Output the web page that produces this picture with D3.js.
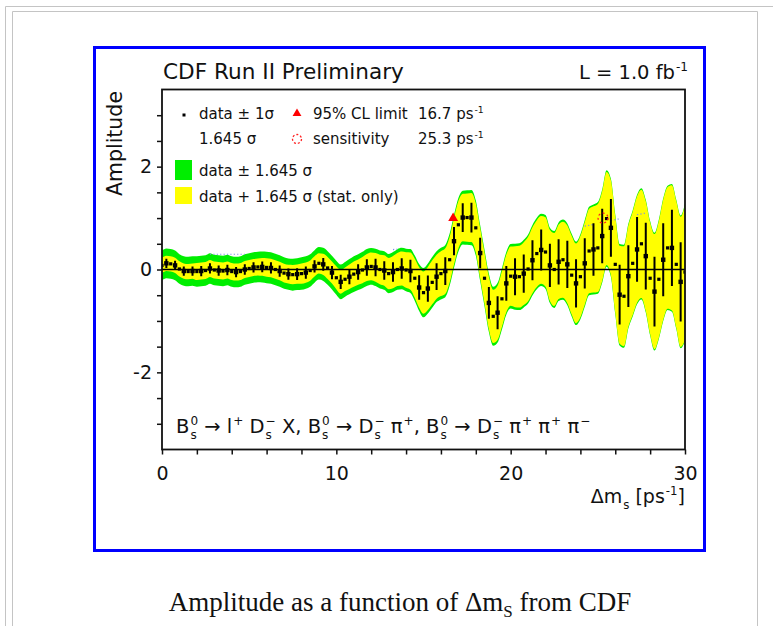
<!DOCTYPE html>
<html>
<head>
<meta charset="utf-8">
<script src="https://cdn.jsdelivr.net/npm/d3@7"></script>
<style>
body { margin: 0; background: #fff; }
svg text { font-family: "DejaVu Sans", sans-serif; fill: #111; white-space: pre; }
</style>
</head>
<body>
<svg id="chart" width="773" height="626"></svg>
<script>
// amplitude scan, one point every 0.25 ps^-1 from 0 to 30
var dmStep = 0.25;

var amplitude = [
  0.08, 0.12, 0.11, 0.08, 0.01, -0.03, -0.04, -0.03,
  -0.04, -0.03, -0.02, 0.02, -0.01, -0.02, -0.03, -0.01,
  -0.04, -0.05, -0.04, 0.00, 0.02, 0.04, 0.05, 0.05,
  0.04, 0.03, 0.00, -0.03, -0.07, -0.09, -0.10, -0.09,
  -0.08, -0.06, -0.02, 0.06, 0.12, 0.10, 0.03, -0.06,
  -0.16, -0.24, -0.19, -0.14, -0.09, -0.05, -0.01, 0.04,
  0.06, 0.04, 0.00, -0.02, -0.08, -0.05, 0.00, 0.02,
  -0.01, -0.03, -0.17, -0.35, -0.45, -0.37, -0.25, -0.14,
  -0.08, -0.03, 0.19, 0.55, 0.87, 1.01, 1.01, 1.01,
  0.81, 0.32, -0.17, -0.65, -0.91, -0.84, -0.57, -0.27,
  -0.13, -0.14, -0.14, -0.08, 0.01, 0.18, 0.31, 0.38,
  0.34, 0.08, 0.00, 0.15, 0.19, 0.10, -0.11, -0.27,
  -0.14, 0.12, 0.36, 0.39, 0.42, 0.65, 0.99, 0.81,
  0.10, -0.49, -0.52, -0.13, 0.12, 0.39, 0.50, 0.26,
  -0.17, -0.43, -0.19, 0.19, 0.42, 0.42, 0.10, -0.24,
  -0.05
];

// statistical 1 sigma at each point
var sigmaStat = [
  0.09, 0.09, 0.09, 0.09, 0.09, 0.09, 0.09, 0.09,
  0.10, 0.10, 0.10, 0.10, 0.10, 0.10, 0.10, 0.10,
  0.10, 0.10, 0.10, 0.10, 0.10, 0.10, 0.10, 0.105,
  0.11, 0.11, 0.11, 0.11, 0.11, 0.11, 0.115, 0.115,
  0.12, 0.12, 0.12, 0.12, 0.12, 0.125, 0.13, 0.13,
  0.135, 0.14, 0.14, 0.145, 0.15, 0.15, 0.155, 0.16,
  0.165, 0.17, 0.175, 0.18, 0.185, 0.19, 0.195, 0.20,
  0.21, 0.22, 0.23, 0.24, 0.25, 0.255, 0.26, 0.26,
  0.265, 0.27, 0.27, 0.275, 0.28, 0.28, 0.285, 0.29,
  0.29, 0.295, 0.30, 0.31, 0.315, 0.32, 0.33, 0.34,
  0.35, 0.36, 0.365, 0.37, 0.38, 0.39, 0.395, 0.40,
  0.41, 0.42, 0.43, 0.44, 0.45, 0.46, 0.465, 0.47,
  0.48, 0.49, 0.50, 0.51, 0.52, 0.53, 0.55, 0.56,
  0.57, 0.58, 0.59, 0.60, 0.61, 0.63, 0.64, 0.65,
  0.66, 0.68, 0.69, 0.71, 0.72, 0.74, 0.75, 0.77,
  0.80
];

// systematic sigma, one value per 1 ps^-1 bin
var sigmaSyst = [
  0.15, 0.15, 0.15, 0.15, 0.15, 0.15, 0.15, 0.15, 0.15, 0.15,
  0.15, 0.15, 0.14, 0.14, 0.14, 0.15, 0.15, 0.15, 0.15, 0.15,
  0.15, 0.15, 0.15, 0.15, 0.15, 0.15, 0.15, 0.15, 0.15, 0.15, 0.15
];

// bits of the 1.645 sigma line that show through
var sensRanges = [[2.75, 4.75], [13.25, 13.5], [24.25, 24.75], [25.75, 26.25], [27.25, 27.75]];

var clLimit = [16.7, 1.0];
var sensPoint = [25.3, 1.0];

var xTickValues = d3.range(0, 31, 2);
var xLabels = [0, 10, 20, 30];
var yTickValues = d3.range(-3, 3.01, 0.5);
var yLabels = [-2, 0, 2];

var data = amplitude.map(function (a, i) {
  var dm = i * dmStep;
  var st = sigmaStat[i];
  var sy = sigmaSyst[Math.min(30, Math.floor(dm))];
  return { dm: dm, a: a, s: st, t: Math.sqrt(st * st + sy * sy), bar: i % 2 === 1 };
});

var svg = d3.select("#chart");

// page frame lines
svg.append("path").attr("d", "M5.5,626 V6.5 H773").attr("fill", "none").attr("stroke", "#c4c4c4");
svg.append("path").attr("d", "M12.5,626 V11.5 H757.5 V626").attr("fill", "none").attr("stroke", "#c4c4c4");

svg.append("rect")
   .attr("x", 94.5).attr("y", 47.5)
   .attr("width", 610).attr("height", 503)
   .attr("fill", "#fff")
   .attr("stroke", "#0000ff")
   .attr("stroke-width", 3);

var plot = { left: 162, right: 685, top: 89.5, bottom: 449.5 };

var x = d3.scaleLinear().domain([0, 30]).range([plot.left, plot.right]);
var y = d3.scaleLinear().domain([-3.5, 3.5]).range([plot.bottom, plot.top]);

svg.append("clipPath").attr("id", "clip")
   .append("rect")
   .attr("x", plot.left).attr("y", plot.top)
   .attr("width", plot.right - plot.left).attr("height", plot.bottom - plot.top);

var g = svg.append("g").attr("clip-path", "url(#clip)");

var k = 1.645;
var greenArea = d3.area()
    .x(function (d) { return x(d.dm); })
    .y0(function (d) { return y(d.a - k * d.t); })
    .y1(function (d) { return y(d.a + k * d.t); })
    .curve(d3.curveMonotoneX);
var yellowArea = d3.area()
    .x(function (d) { return x(d.dm); })
    .y0(function (d) { return y(d.a - k * d.s); })
    .y1(function (d) { return y(d.a + k * d.s); })
    .curve(d3.curveMonotoneX);

g.append("path").datum(data).attr("d", greenArea).attr("fill", "#00ee00");
g.append("path").datum(data).attr("d", yellowArea).attr("fill", "#ffff00");

// dotted 1.645 sigma line
var sensLine = d3.line()
    .x(function (d) { return x(d.dm); })
    .y(function (d) { return y(k * d.t); });
sensRanges.forEach(function (r) {
  var seg = data.filter(function (d) { return d.dm >= r[0] && d.dm <= r[1]; });
  g.append("path").datum(seg).attr("d", sensLine)
   .attr("fill", "none").attr("stroke", "#7f8fe8")
   .attr("stroke-width", 1.2).attr("stroke-dasharray", "1.2,2.2");
});

g.append("line")
 .attr("x1", x(0)).attr("x2", x(30))
 .attr("y1", y(0)).attr("y2", y(0))
 .attr("stroke", "#000").attr("stroke-width", 1.5);

g.selectAll("line.err").data(data.filter(function (d) { return d.bar; })).enter()
 .append("line").attr("class", "err")
 .attr("x1", function (d) { return x(d.dm); })
 .attr("x2", function (d) { return x(d.dm); })
 .attr("y1", function (d) { return y(d.a - d.s); })
 .attr("y2", function (d) { return y(d.a + d.s); })
 .attr("stroke", "#000").attr("stroke-width", 2);

g.selectAll("rect.pt").data(data).enter()
 .append("rect").attr("class", "pt")
 .attr("x", function (d) { return x(d.dm) - (d.bar ? 2.2 : 1.6); })
 .attr("y", function (d) { return y(d.a) - (d.bar ? 2.2 : 1.6); })
 .attr("width", function (d) { return d.bar ? 4.4 : 3.2; })
 .attr("height", function (d) { return d.bar ? 4.4 : 3.2; })
 .attr("fill", "#000");

var tri = d3.symbol().type(d3.symbolTriangle).size(42);
g.append("path").attr("d", tri())
 .attr("transform", "translate(" + x(clLimit[0]) + "," + y(clLimit[1]) + ")")
 .attr("fill", "#ff0000");

g.append("circle")
 .attr("cx", x(sensPoint[0])).attr("cy", y(sensPoint[1])).attr("r", 5)
 .attr("fill", "none").attr("stroke", "#ff2020").attr("stroke-width", 1.3)
 .attr("stroke-dasharray", "2,2.5");

// frame
svg.append("rect")
   .attr("x", plot.left).attr("y", plot.top)
   .attr("width", plot.right - plot.left).attr("height", plot.bottom - plot.top)
   .attr("fill", "none").attr("stroke", "#111").attr("stroke-width", 1.8);

var xAxis = d3.axisBottom(x).tickValues(xTickValues).tickSize(5).tickSizeOuter(0).tickPadding(12)
    .tickFormat(function (d) { return xLabels.indexOf(d) >= 0 ? String(d) : ""; });
var xg = svg.append("g").attr("transform", "translate(0," + plot.bottom + ")").call(xAxis);

var yAxis = d3.axisLeft(y).tickValues(yTickValues).tickSize(5).tickSizeOuter(0).tickPadding(5)
    .tickFormat(function (d) { return yLabels.indexOf(d) >= 0 ? String(d) : ""; });
var yg = svg.append("g").attr("transform", "translate(" + plot.left + ",0)").call(yAxis);

[xg, yg].forEach(function (ax) {
  ax.select(".domain").remove();
  ax.selectAll(".tick line").attr("stroke", "#111").attr("stroke-width", 1.5);
  ax.selectAll(".tick text").attr("fill", "#111").style("font-size", "19px")
    .style("font-family", "'DejaVu Sans', sans-serif");
});

// text with stacked sub/superscripts
function richText(parent, x0, y0, parts, size, anchor) {
  var grp = parent.append("g");
  var cx = 0;
  var small = size * 0.62;
  parts.forEach(function (p) {
    var t = grp.append("text").attr("x", cx).attr("y", 0).style("font-size", size + "px").text(p.t);
    cx += t.node().getComputedTextLength();
    var w = 0;
    if (p.sub) {
      var s = grp.append("text").attr("x", cx + 1).attr("y", size * 0.3).style("font-size", small + "px").text(p.sub);
      w = Math.max(w, s.node().getComputedTextLength() + 1);
    }
    if (p.sup) {
      var u = grp.append("text").attr("x", cx + 1).attr("y", -size * 0.42).style("font-size", small + "px").text(p.sup);
      w = Math.max(w, u.node().getComputedTextLength() + 1);
    }
    cx += w;
  });
  var shift = anchor === "end" ? x0 - cx : x0;
  grp.attr("transform", "translate(" + shift + "," + y0 + ")");
  return grp;
}

svg.append("text").attr("x", 163).attr("y", 79).style("font-size", "21.6px").text("CDF Run II Preliminary");
richText(svg, 688, 79, [{ t: "L = 1.0 fb", sup: "-1" }], 19.5, "end");

svg.append("text")
   .attr("transform", "translate(122,91) rotate(-90)")
   .attr("text-anchor", "end")
   .style("font-size", "20.5px")
   .text("Amplitude");

richText(svg, 685, 503, [{ t: "Δm", sub: "s" }, { t: " [ps", sup: "-1" }, { t: "]" }], 19, "end");

// legend
var leg = svg.append("g");
leg.append("rect").attr("x", 182.5).attr("y", 113.5).attr("width", 3).attr("height", 3).attr("fill", "#000");
leg.append("text").attr("x", 199).attr("y", 119).style("font-size", "15px").text("data ± 1σ");
leg.append("text").attr("x", 199).attr("y", 144).style("font-size", "15px").text("1.645 σ");
leg.append("path").attr("d", d3.symbol().type(d3.symbolTriangle).size(34)())
   .attr("transform", "translate(297,113.5)").attr("fill", "#ff0000");
leg.append("circle").attr("cx", 297).attr("cy", 139).attr("r", 4.5)
   .attr("fill", "none").attr("stroke", "#ff2020").attr("stroke-width", 1.3).attr("stroke-dasharray", "2,2");
leg.append("text").attr("x", 313).attr("y", 119).style("font-size", "15px").text("95% CL limit");
leg.append("text").attr("x", 313).attr("y", 144).style("font-size", "15px").text("sensitivity");
richText(leg, 418, 119, [{ t: "16.7 ps", sup: "-1" }], 15, "start");
richText(leg, 418, 144, [{ t: "25.3 ps", sup: "-1" }], 15, "start");

leg.append("rect").attr("x", 175).attr("y", 160).attr("width", 17).attr("height", 20).attr("fill", "#00ee00");
leg.append("rect").attr("x", 175).attr("y", 187).attr("width", 17).attr("height", 17).attr("fill", "#ffff00");
leg.append("text").attr("x", 199).attr("y", 176).style("font-size", "15px").text("data ± 1.645 σ");
leg.append("text").attr("x", 199).attr("y", 202).style("font-size", "15px").text("data + 1.645 σ (stat. only)");

richText(svg, 176, 433, [
  { t: "B", sub: "s", sup: "0" }, { t: " → l", sup: "+" }, { t: " D", sub: "s", sup: "−" },
  { t: " X, B", sub: "s", sup: "0" }, { t: " → D", sub: "s", sup: "−" }, { t: " π", sup: "+" },
  { t: ", B", sub: "s", sup: "0" }, { t: " → D", sub: "s", sup: "−" }, { t: " π", sup: "+" },
  { t: " π", sup: "+" }, { t: " π", sup: "−" }
], 19.5, "start");

// caption below the figure
var cap = svg.append("text")
   .attr("x", 400).attr("y", 611)
   .attr("text-anchor", "middle")
   .style("font-family", "'Liberation Serif', serif")
   .style("font-size", "27px");
cap.append("tspan").text("Amplitude as a function of Δm");
cap.append("tspan").attr("dy", 6).style("font-size", "17px").text("S");
cap.append("tspan").attr("dy", -6).text(" from CDF");
</script>
</body>
</html>
